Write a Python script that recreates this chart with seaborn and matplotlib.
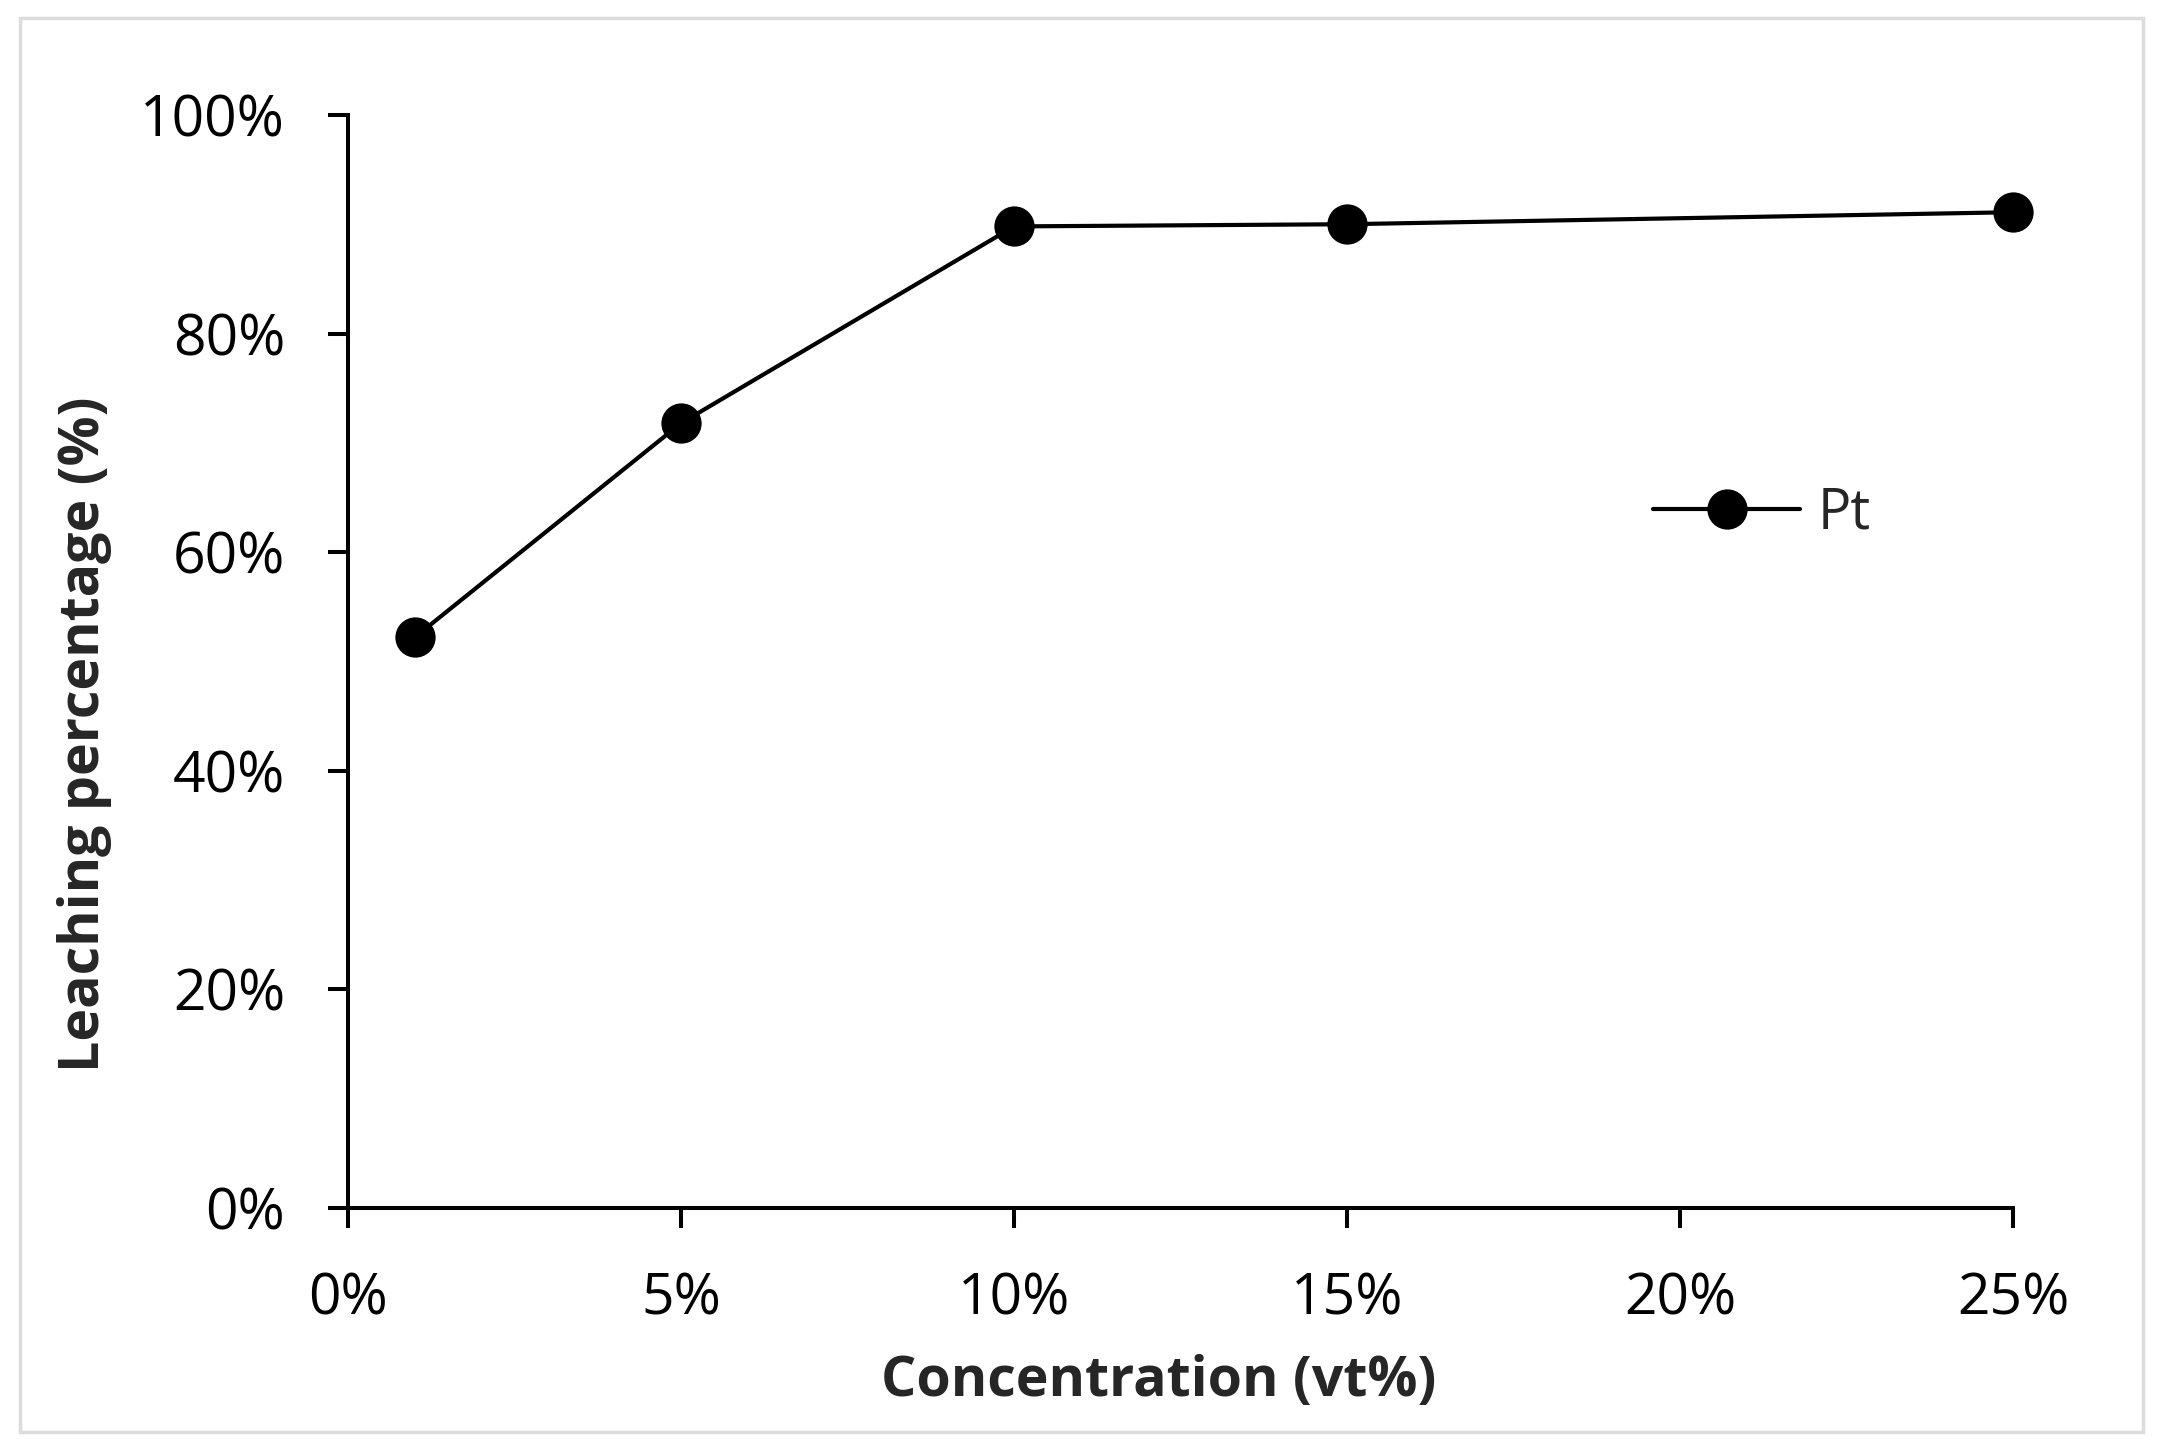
import matplotlib
matplotlib.use("Agg")
import matplotlib.pyplot as plt
import seaborn as sns
import pandas as pd
from matplotlib.ticker import PercentFormatter
from matplotlib.patches import Rectangle

# data
concentration = [1, 5, 10, 15, 25]          # vt%
leaching = [52.2, 71.8, 89.8, 90.0, 91.1]   # %
series_name = "Pt"
x_ticks = [0, 5, 10, 15, 20, 25]
y_ticks = [0, 20, 40, 60, 80, 100]

df = pd.DataFrame({"Concentration": concentration, "Leaching": leaching})

sns.set_style("ticks")
plt.rcParams["font.family"] = ["Open Sans", "DejaVu Sans"]

fig = plt.figure(figsize=(21.77, 14.51), dpi=100)
ax = fig.add_axes([0.1599, 0.1675, 0.7648, 0.7533])

sns.lineplot(data=df, x="Concentration", y="Leaching", ax=ax,
             color="black", linewidth=3, marker="o", markersize=29,
             markeredgewidth=0, label=series_name, clip_on=False)

ax.set_xlim(0, 25)
ax.set_ylim(0, 100)
ax.set_xticks(x_ticks)
ax.set_yticks(y_ticks)
ax.xaxis.set_major_formatter(PercentFormatter(xmax=100, decimals=0))
ax.yaxis.set_major_formatter(PercentFormatter(xmax=100, decimals=0))

for side in ["top", "right"]:
    ax.spines[side].set_visible(False)
for side in ["left", "bottom"]:
    ax.spines[side].set_linewidth(2.9)
    ax.spines[side].set_color("black")

ax.tick_params(axis="both", direction="out", length=14.4, width=2.9,
               color="black", labelsize=41, labelcolor="black", pad=31)

ax.set_xlabel("Concentration (vt%)", fontsize=40, fontweight="bold")
ax.set_ylabel("Leaching percentage (%)", fontsize=40, fontweight="bold")
ax.xaxis.set_label_coords(0.487, -0.134)
ax.yaxis.set_label_coords(-0.1417, 0.433)

ax.legend(loc="center left", bbox_to_anchor=(0.7838, 0.635), frameon=False,
          fontsize=40, handlelength=2.65, handletextpad=0.32,
          borderpad=0, borderaxespad=0)

fig.patches.append(Rectangle((0.0092, 0.0131), 0.9752, 0.9745,
                             transform=fig.transFigure, fill=False,
                             edgecolor="#dcdcdc", linewidth=2.5))

fig.savefig("out.png", dpi=100)
